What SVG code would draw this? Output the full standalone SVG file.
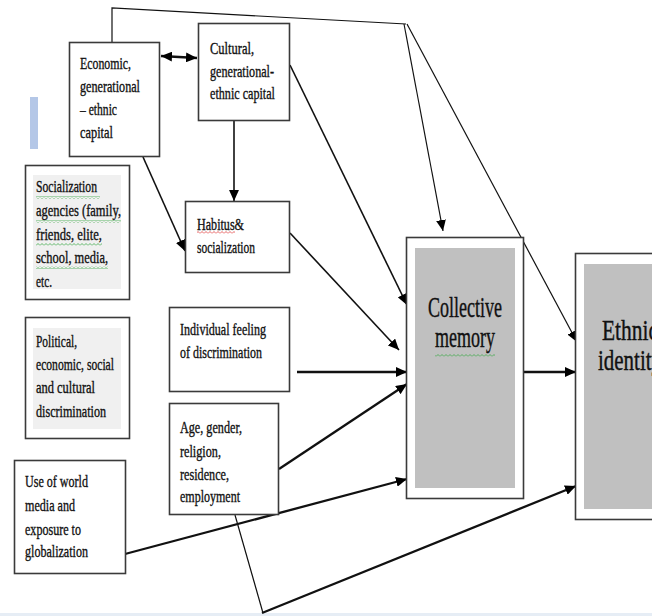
<svg xmlns="http://www.w3.org/2000/svg" width="652" height="616" viewBox="0 0 652 616">
<style>
.box{fill:#fff;stroke:#3a3a3a;stroke-width:1.6}
.t{font-family:"Liberation Serif","Times New Roman",serif;font-size:16.5px;fill:#111;stroke:#111;stroke-width:0.35px;}
.big{font-family:"Liberation Serif","Times New Roman",serif;font-size:29px;fill:#111;stroke:#111;stroke-width:0.4px;}
.c{fill:none;stroke:#111;}
.thin{stroke-width:1.2}
.mid{stroke-width:1.6}
.thick{stroke-width:2.3}
</style>
<defs>
<marker id="ah" viewBox="0 0 10 9" refX="10" refY="4.5" markerUnits="userSpaceOnUse" markerWidth="11" markerHeight="10" orient="auto-start-reverse">
<path d="M0,0 L10,4.5 L0,9 z" fill="#000"/>
</marker>
<pattern id="sqg" width="4" height="3" patternUnits="userSpaceOnUse">
<path d="M0,2.5 L2,0.5 L4,2.5" fill="none" stroke="#3aa845" stroke-width="0.8"/>
</pattern>
<pattern id="sqr" width="4" height="3" patternUnits="userSpaceOnUse">
<path d="M0,2.5 L2,0.5 L4,2.5" fill="none" stroke="#e03a3a" stroke-width="0.8"/>
</pattern>
</defs>
<rect x="0" y="0" width="652" height="616" fill="#fff"/>
<rect x="0" y="613" width="652" height="3" fill="#e6edf5"/>
<rect x="30" y="97" width="8" height="52" fill="#b4c7e7"/>

<g id="connectors">
<polyline class="c thin" points="112,42 112,8 406,24"/>
<line class="c thin" x1="404" y1="24" x2="443" y2="231" marker-end="url(#ah)"/>
<line class="c thin" x1="407" y1="24" x2="577" y2="342" marker-end="url(#ah)"/>
<line class="c thick" x1="161" y1="56" x2="197" y2="58" marker-start="url(#ah)" marker-end="url(#ah)"/>
<line class="c mid" x1="290" y1="65" x2="407" y2="305" marker-end="url(#ah)"/>
<line class="c mid" x1="143" y1="157" x2="185" y2="251" marker-end="url(#ah)"/>
<line class="c mid" x1="234" y1="121" x2="234" y2="201" marker-end="url(#ah)"/>
<line class="c mid" x1="290" y1="233" x2="399" y2="350" marker-end="url(#ah)"/>
<line class="c thick" x1="297" y1="372" x2="407" y2="372" marker-end="url(#ah)"/>
<line class="c thick" x1="279" y1="469" x2="407" y2="384" marker-end="url(#ah)"/>
<line class="c thick" x1="125" y1="554" x2="407" y2="479" marker-end="url(#ah)"/>
<line class="c thin" x1="235" y1="515" x2="263" y2="613"/>
<line class="c thick" x1="262" y1="613" x2="576" y2="486" marker-end="url(#ah)"/>
<line class="c thick" x1="524" y1="372" x2="576" y2="372" marker-end="url(#ah)"/>
</g>

<g id="economic">
<rect class="box" x="69.5" y="42.5" width="90" height="114"/>
<text class="t" x="80" y="69" textLength="51" lengthAdjust="spacingAndGlyphs">Economic,</text>
<text class="t" x="80" y="92" textLength="60" lengthAdjust="spacingAndGlyphs">generational</text>
<text class="t" x="80" y="115" textLength="37" lengthAdjust="spacingAndGlyphs">– ethnic</text>
<text class="t" x="80" y="138" textLength="33" lengthAdjust="spacingAndGlyphs">capital</text>
</g>

<g id="cultural">
<rect class="box" x="198.5" y="23.5" width="91" height="97"/>
<text class="t" x="210" y="54" textLength="44" lengthAdjust="spacingAndGlyphs">Cultural,</text>
<text class="t" x="210" y="77" textLength="64" lengthAdjust="spacingAndGlyphs">generational-</text>
<text class="t" x="210" y="99" textLength="65" lengthAdjust="spacingAndGlyphs">ethnic capital</text>
</g>

<g id="habitus">
<rect class="box" x="185.5" y="201.5" width="104" height="71"/>
<rect x="197" y="231" width="38" height="3" fill="url(#sqr)"/>
<text class="t" x="197" y="230" textLength="47" lengthAdjust="spacingAndGlyphs">Habitus&amp;</text>
<text class="t" x="197" y="253" textLength="58" lengthAdjust="spacingAndGlyphs">socialization</text>
</g>

<g id="socialization">
<rect class="box" x="25.5" y="165.5" width="104" height="134"/>
<rect x="33" y="175" width="88" height="114" fill="#f0f0f0"/>
<rect x="36" y="196" width="64" height="3" fill="url(#sqg)"/>
<rect x="36" y="220" width="85" height="3" fill="url(#sqg)"/>
<rect x="36" y="243" width="66" height="3" fill="url(#sqg)"/>
<rect x="36" y="266" width="72" height="3" fill="url(#sqg)"/>
<text class="t" x="36" y="192" textLength="61" lengthAdjust="spacingAndGlyphs">Socialization</text>
<text class="t" x="36" y="216" textLength="85" lengthAdjust="spacingAndGlyphs">agencies (family,</text>
<text class="t" x="36" y="240" textLength="66" lengthAdjust="spacingAndGlyphs">friends, elite,</text>
<text class="t" x="36" y="263" textLength="72" lengthAdjust="spacingAndGlyphs">school, media,</text>
<text class="t" x="36" y="287" textLength="16" lengthAdjust="spacingAndGlyphs">etc.</text>
</g>

<g id="political">
<rect class="box" x="25.5" y="317.5" width="104" height="121"/>
<rect x="33" y="328" width="88" height="101" fill="#f0f0f0"/>
<text class="t" x="36" y="347" textLength="41" lengthAdjust="spacingAndGlyphs">Political,</text>
<text class="t" x="36" y="370" textLength="78" lengthAdjust="spacingAndGlyphs">economic, social</text>
<text class="t" x="36" y="393" textLength="59" lengthAdjust="spacingAndGlyphs">and cultural</text>
<text class="t" x="36" y="417" textLength="70" lengthAdjust="spacingAndGlyphs">discrimination</text>
</g>

<g id="individual">
<rect class="box" x="169.5" y="307.5" width="120" height="84"/>
<text class="t" x="180" y="335" textLength="86" lengthAdjust="spacingAndGlyphs">Individual feeling</text>
<text class="t" x="180" y="358" textLength="82" lengthAdjust="spacingAndGlyphs">of discrimination</text>
</g>

<g id="age">
<rect class="box" x="169.5" y="403.5" width="109" height="111"/>
<text class="t" x="180" y="433" textLength="62" lengthAdjust="spacingAndGlyphs">Age, gender,</text>
<text class="t" x="180" y="457" textLength="41" lengthAdjust="spacingAndGlyphs">religion,</text>
<text class="t" x="180" y="480" textLength="49" lengthAdjust="spacingAndGlyphs">residence,</text>
<text class="t" x="180" y="502" textLength="60" lengthAdjust="spacingAndGlyphs">employment</text>
</g>

<g id="media">
<rect class="box" x="14.5" y="460.5" width="111" height="113"/>
<text class="t" x="25" y="487" textLength="63" lengthAdjust="spacingAndGlyphs">Use of world</text>
<text class="t" x="25" y="511" textLength="50" lengthAdjust="spacingAndGlyphs">media and</text>
<text class="t" x="25" y="535" textLength="56" lengthAdjust="spacingAndGlyphs">exposure to</text>
<text class="t" x="25" y="557" textLength="63" lengthAdjust="spacingAndGlyphs">globalization</text>
</g>

<g id="collective">
<rect class="box" x="406.5" y="237.5" width="117" height="261"/>
<rect x="415" y="248" width="100" height="240" fill="#c0c0c0"/>
<rect x="435" y="354" width="60" height="3" fill="url(#sqg)"/>
<text class="big" x="428" y="317" textLength="74" lengthAdjust="spacingAndGlyphs">Collective</text>
<text class="big" x="435" y="347" textLength="60" lengthAdjust="spacingAndGlyphs">memory</text>
</g>

<g id="ethnic">
<rect class="box" x="575.5" y="253.5" width="90" height="266"/>
<rect x="584" y="264" width="80" height="245" fill="#c0c0c0"/>
<text class="big" x="602" y="340" textLength="56" lengthAdjust="spacingAndGlyphs">Ethnic</text>
<text class="big" x="598" y="370" textLength="64" lengthAdjust="spacingAndGlyphs">identity</text>
</g>
</svg>
